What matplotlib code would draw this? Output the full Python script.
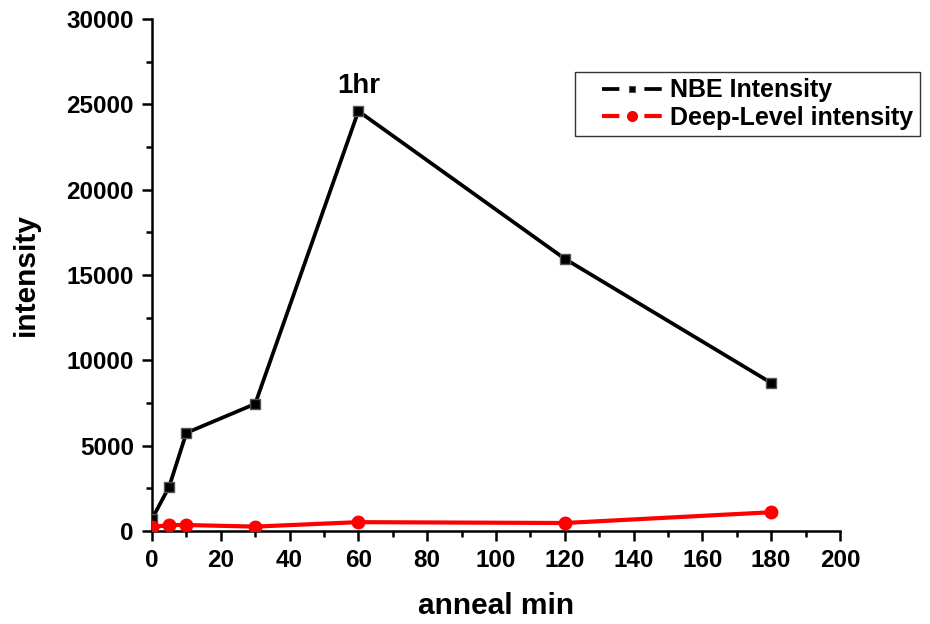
import matplotlib
matplotlib.use("Agg")
import matplotlib.pyplot as plt
from matplotlib.lines import Line2D
from matplotlib.legend_handler import HandlerLine2D
from matplotlib.ticker import MultipleLocator

plt.rcParams['font.family'] = ['Liberation Sans', 'DejaVu Sans']
plt.rcParams['font.weight'] = 'bold'
plt.rcParams['lines.scale_dashes'] = False

anneal = [0, 5, 10, 30, 60, 120, 180]
nbe = [700, 2600, 5750, 7450, 24600, 15950, 8680]
deep = [230, 350, 350, 260, 520, 470, 1100]


class ShiftedHandler(HandlerLine2D):
    # leave some empty room on the left of the legend line
    def get_xdata(self, legend, xdescent, ydescent, width, height, fontsize):
        off = 0.25 * width
        x0 = -xdescent + off
        return [x0, -xdescent + width], [x0 + 0.5 * (width - off)]


fig = plt.figure(figsize=(9.3, 6.24), dpi=100)
ax = fig.add_axes([0.1634, 0.149, 0.7398, 0.8206])

ax.plot(anneal, nbe, color='black', lw=2.7, marker='s', ms=7.5,
        mfc='black', mec='#555555', mew=1, zorder=3)
ax.plot(anneal, deep, color='red', lw=3, marker='o', ms=9,
        mfc='red', mec='red', zorder=3)

ax.annotate('1hr', (60, 24600), xytext=(0, 9), textcoords='offset points',
            ha='center', va='bottom', fontsize=20, fontweight='bold')

ax.set_xlim(0, 200)
ax.set_ylim(0, 30000)
ax.xaxis.set_major_locator(MultipleLocator(20))
ax.xaxis.set_minor_locator(MultipleLocator(10))
ax.yaxis.set_major_locator(MultipleLocator(5000))
ax.yaxis.set_minor_locator(MultipleLocator(2500))

for s in ['top', 'right']:
    ax.spines[s].set_visible(False)
for s in ['left', 'bottom']:
    ax.spines[s].set_linewidth(1.8)

ax.tick_params(which='major', length=7, width=1.8, labelsize=17.5, pad=6)
ax.tick_params(which='minor', length=4, width=1.8)
for lab in ax.get_xticklabels() + ax.get_yticklabels():
    lab.set_fontweight('bold')

ax.set_xlabel('anneal min', fontsize=21.5, fontweight='bold', labelpad=14)
ax.set_ylabel('intensity', fontsize=21.5, fontweight='bold', labelpad=19)

# legend handles: dash, marker, dash
h1 = Line2D([], [], color='black', lw=2.7, dashes=(12.5, 18), marker='s',
            ms=4.5, mfc='black', mec='#555555', mew=0.8)
h2 = Line2D([], [], color='red', lw=3, dashes=(12.5, 18), marker='o',
            ms=7, mfc='red', mec='red')
leg = ax.legend([h1, h2], ['NBE Intensity', 'Deep-Level intensity'],
                handler_map={Line2D: ShiftedHandler(numpoints=1)},
                loc='upper right', bbox_to_anchor=(1.116, 0.896), fontsize=18,
                frameon=True, fancybox=False, edgecolor='black',
                handlelength=3.2, borderpad=0.25,
                labelspacing=0.15, handletextpad=0.35, borderaxespad=0)
leg.get_frame().set_linewidth(1.0)
for t in leg.get_texts():
    t.set_fontweight('bold')

fig.savefig('out.png', dpi=100)
